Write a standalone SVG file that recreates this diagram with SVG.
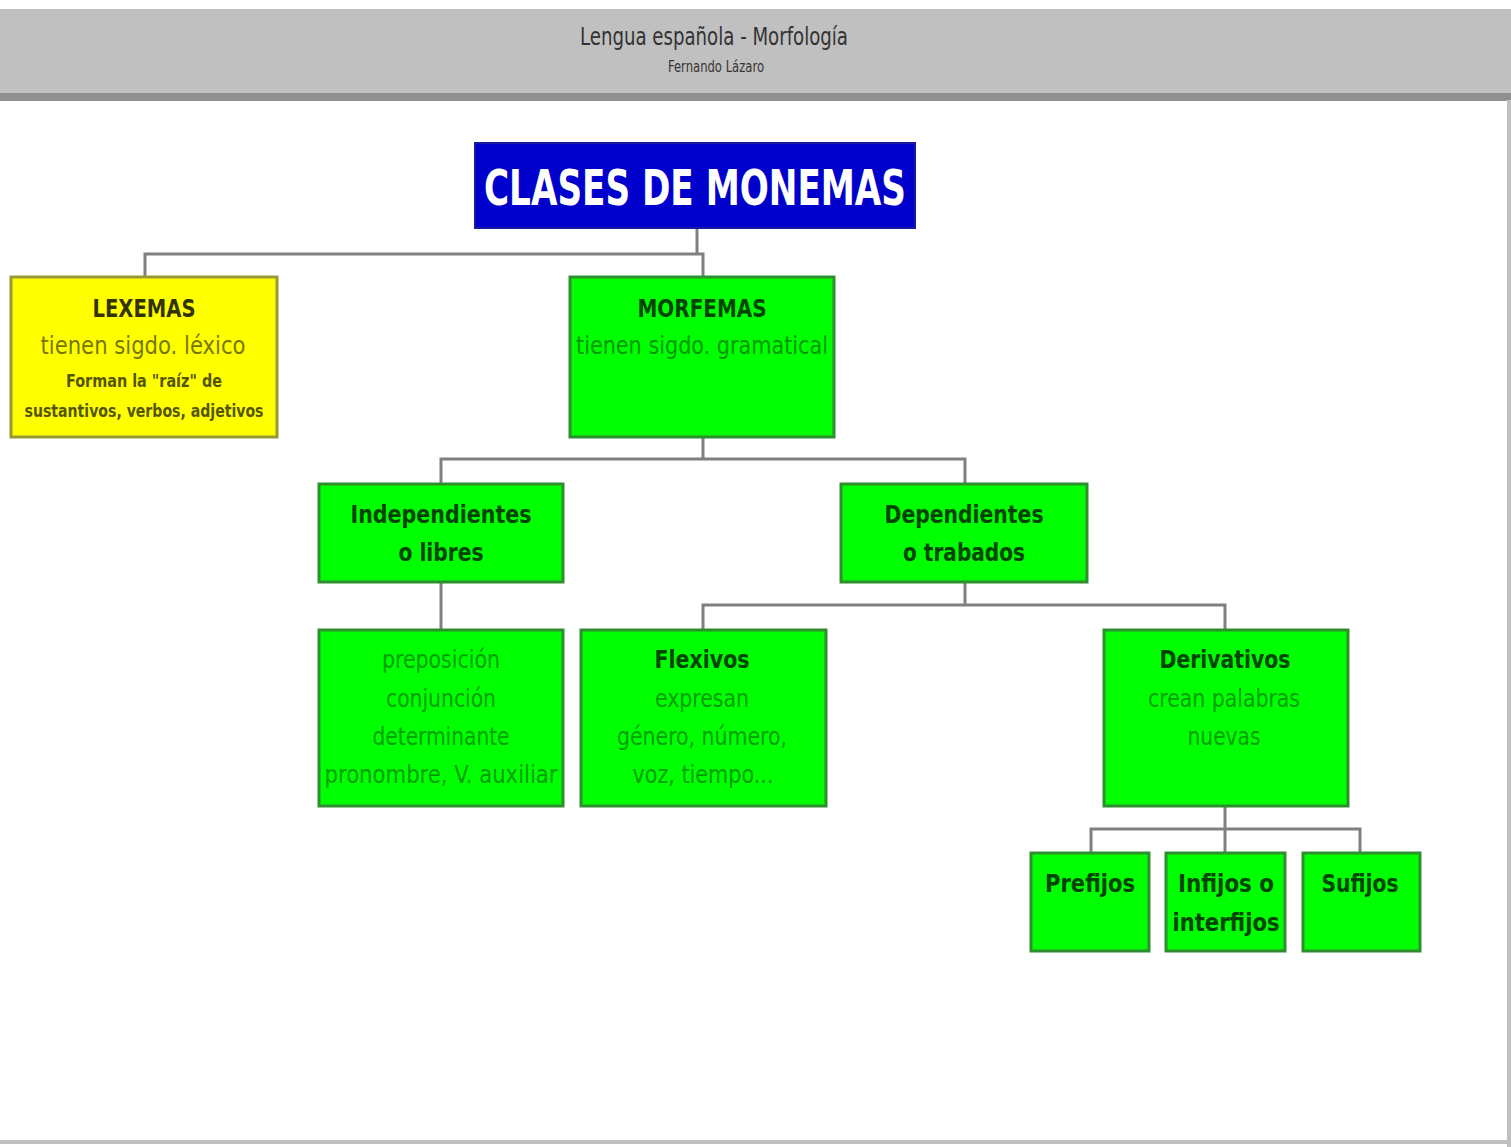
<svg xmlns="http://www.w3.org/2000/svg" width="1511" height="1147" viewBox="0 0 1511 1147">
<style>
.g{fill:#00ff00;stroke:#2f8f2f;stroke-width:3}
.y{fill:#ffff00;stroke:#999933;stroke-width:3}
.c{fill:none;stroke:#808080;stroke-width:3}
text{font-family:"DejaVu Sans Condensed","DejaVu Sans","Liberation Sans",sans-serif;text-anchor:middle}
.h{font-weight:bold;font-size:24px;fill:#004400}
.t{font-size:24px;fill:#00a000}
.hy{font-weight:bold;font-size:24px;fill:#333300}
.ty{font-size:24px;fill:#777700}
.sy{font-weight:bold;font-size:18px;fill:#555500}
</style>
<rect x="0" y="0" width="1511" height="1147" fill="#ffffff"/>
<g id="header">
<rect x="0" y="9" width="1511" height="84" fill="#c0c0c0"/>
<rect x="0" y="93" width="1511" height="8" fill="#909090"/>
<rect x="1507" y="100" width="4" height="1047" fill="#c0c0c0"/>
<rect x="0" y="1140" width="1511" height="4" fill="#c0c0c0"/>
<text x="714" y="45" font-size="24" fill="#333333" textLength="268" lengthAdjust="spacingAndGlyphs">Lengua española - Morfología</text>
<text x="716" y="72" font-size="16" fill="#333333" textLength="96" lengthAdjust="spacingAndGlyphs">Fernando Lázaro</text>
</g>
<g id="connectors">
<polyline class="c" points="697,228 697,254"/>
<polyline class="c" points="145,277 145,254 703,254 703,277"/>
<polyline class="c" points="703,437 703,459"/>
<polyline class="c" points="441,484 441,459 965,459 965,484"/>
<polyline class="c" points="441,582 441,630"/>
<polyline class="c" points="965,582 965,605"/>
<polyline class="c" points="703,630 703,605 1225,605 1225,630"/>
<polyline class="c" points="1225,806 1225,829"/>
<polyline class="c" points="1091,853 1091,829 1360,829 1360,853"/>
<polyline class="c" points="1225,829 1225,853"/>
</g>
<g id="title">
<rect x="475" y="143" width="440" height="85" fill="#0000cc" stroke="#1a1aa0" stroke-width="2"/>
<text x="695" y="205" font-size="50" font-weight="bold" fill="#ffffff" textLength="422" lengthAdjust="spacingAndGlyphs">CLASES DE MONEMAS</text>
</g>
<g id="lexemas">
<rect class="y" x="11" y="277" width="266" height="160"/>
<text class="hy" x="144" y="317" textLength="103" lengthAdjust="spacingAndGlyphs">LEXEMAS</text>
<text class="ty" x="143" y="354" textLength="205" lengthAdjust="spacingAndGlyphs">tienen sigdo. léxico</text>
<text class="sy" x="144" y="387" textLength="156" lengthAdjust="spacingAndGlyphs">Forman la "raíz" de</text>
<text class="sy" x="144" y="417" textLength="239" lengthAdjust="spacingAndGlyphs">sustantivos, verbos, adjetivos</text>
</g>
<g id="morfemas">
<rect class="g" x="570" y="277" width="264" height="160"/>
<text class="h" x="702" y="317" textLength="129" lengthAdjust="spacingAndGlyphs">MORFEMAS</text>
<text class="t" x="702" y="354" textLength="252" lengthAdjust="spacingAndGlyphs" style="fill:#009900">tienen sigdo. gramatical</text>
</g>
<g id="independientes">
<rect class="g" x="319" y="484" width="244" height="98"/>
<text class="h" x="441" y="523" textLength="181" lengthAdjust="spacingAndGlyphs">Independientes</text>
<text class="h" x="441" y="561" textLength="85" lengthAdjust="spacingAndGlyphs">o libres</text>
</g>
<g id="dependientes">
<rect class="g" x="841" y="484" width="246" height="98"/>
<text class="h" x="964" y="523" textLength="159" lengthAdjust="spacingAndGlyphs">Dependientes</text>
<text class="h" x="964" y="561" textLength="122" lengthAdjust="spacingAndGlyphs">o trabados</text>
</g>
<g id="palabras">
<rect class="g" x="319" y="630" width="244" height="176"/>
<text class="t" x="441" y="668" textLength="118" lengthAdjust="spacingAndGlyphs">preposición</text>
<text class="t" x="441" y="707" textLength="110" lengthAdjust="spacingAndGlyphs">conjunción</text>
<text class="t" x="441" y="745" textLength="137" lengthAdjust="spacingAndGlyphs">determinante</text>
<text class="t" x="441" y="783" textLength="233" lengthAdjust="spacingAndGlyphs">pronombre, V. auxiliar</text>
</g>
<g id="flexivos">
<rect class="g" x="581" y="630" width="245" height="176"/>
<text class="h" x="702" y="668" textLength="95" lengthAdjust="spacingAndGlyphs">Flexivos</text>
<text class="t" x="702" y="707" textLength="94" lengthAdjust="spacingAndGlyphs">expresan</text>
<text class="t" x="702" y="745" textLength="170" lengthAdjust="spacingAndGlyphs">género, número,</text>
<text class="t" x="703" y="783" textLength="141" lengthAdjust="spacingAndGlyphs">voz, tiempo...</text>
</g>
<g id="derivativos">
<rect class="g" x="1104" y="630" width="244" height="176"/>
<text class="h" x="1225" y="668" textLength="131" lengthAdjust="spacingAndGlyphs">Derivativos</text>
<text class="t" x="1224" y="707" textLength="152" lengthAdjust="spacingAndGlyphs">crean palabras</text>
<text class="t" x="1224" y="745" textLength="73" lengthAdjust="spacingAndGlyphs">nuevas</text>
</g>
<g id="prefijos">
<rect class="g" x="1031" y="853" width="118" height="98"/>
<text class="h" x="1090" y="892" textLength="90" lengthAdjust="spacingAndGlyphs">Prefijos</text>
</g>
<g id="infijos">
<rect class="g" x="1166" y="853" width="119" height="98"/>
<text class="h" x="1226" y="892" textLength="96" lengthAdjust="spacingAndGlyphs">Infijos o</text>
<text class="h" x="1226" y="931" textLength="107" lengthAdjust="spacingAndGlyphs">interfijos</text>
</g>
<g id="sufijos">
<rect class="g" x="1303" y="853" width="117" height="98"/>
<text class="h" x="1360" y="892" textLength="77" lengthAdjust="spacingAndGlyphs">Sufijos</text>
</g>
</svg>
